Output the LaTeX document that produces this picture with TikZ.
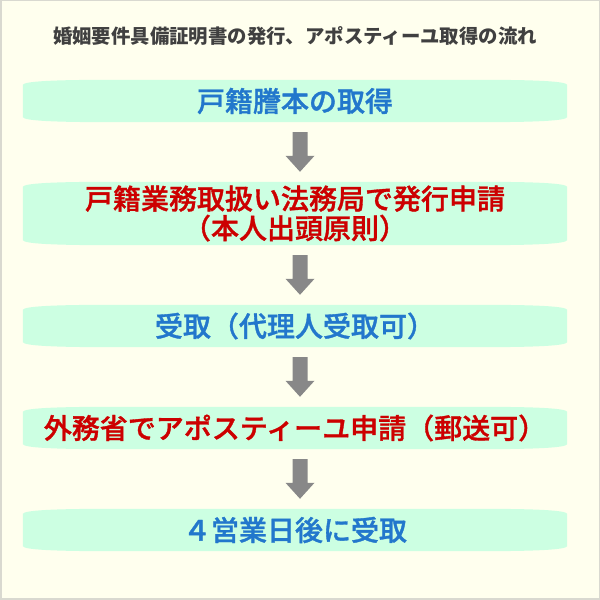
\documentclass[tikz,border=0pt]{standalone}
\usepackage{fontspec}
\newfontfamily\jp{Noto Sans CJK JP}
\newfontfamily\jpm[RawFeature={embolden=1.2}]{Noto Sans CJK JP Medium}
\usetikzlibrary{calc}
\definecolor{bgcream}{HTML}{FFFFEE}
\definecolor{framegray}{HTML}{D9D9D0}
\definecolor{mint}{HTML}{CCFFE2}
\definecolor{titlegray}{HTML}{404040}
\definecolor{txtblue}{HTML}{2277CC}
\definecolor{txtred}{HTML}{CC0000}
\definecolor{arrowgray}{HTML}{888888}
\tikzset{
  boxtext/.style={inner sep=0pt, minimum width=544pt, align=center,
    font=\jpm\fontsize{28}{29.5}\selectfont},
  titletext/.style={inner sep=0pt, text=titlegray,
    font=\jp\bfseries\fontsize{19.4}{22}\selectfont},
}
\newcommand\mintshape[1]{%
  \fill[mint] let \p1=(#1.north west), \p2=(#1.south east) in
    (\x1,\y1-5) .. controls (\x1+1.5,\y1-1.5) and (\x1+30,\y1) .. (\x1+90,\y1)
    -- (\x2-90,\y1) .. controls (\x2-30,\y1) and (\x2-1.5,\y1-1.5) .. (\x2,\y1-5)
    -- (\x2,\y2+5) .. controls (\x2-1.5,\y2+1.5) and (\x2-30,\y2) .. (\x2-90,\y2)
    -- (\x1+90,\y2) .. controls (\x1+30,\y2) and (\x1+1.5,\y2+1.5) .. (\x1,\y2+5)
    -- cycle;}
\newcommand\blockarrow[2]{%
  \fill[arrowgray] let \p1=(#1.south), \p2=(#2.north) in
    (292.5,\y1-10) -- (307.5,\y1-10) -- (307.5,\y2+26) -- (314.5,\y2+26)
    -- (300,\y2+10) -- (285.5,\y2+26) -- (292.5,\y2+26) -- cycle;}
\begin{document}
\begin{tikzpicture}[x=1pt,y=1pt]
\fill[bgcream] (0,0) rectangle (600,600);
\useasboundingbox (0,0) rectangle (600,600);
\draw[framegray, line width=1.5pt] (0.75,0.75) rectangle (599.25,599.25);

\node[titletext] (title) at (295,564) {婚姻要件具備証明書の発行、アポスティーユ取得の流れ};

% invisible sizing nodes for the boxes
\node[boxtext, minimum height=42pt] (b1frame) at (295,499) {};
\node[boxtext, minimum height=63pt] (b2frame) at (295,386.5) {};
\node[boxtext, minimum height=42pt] (b3frame) at (295,274) {};
\node[boxtext, minimum height=42pt] (b4frame) at (295,172) {};
\node[boxtext, minimum height=42pt] (b5frame) at (295,70) {};

\mintshape{b1frame}
\mintshape{b2frame}
\mintshape{b3frame}
\mintshape{b4frame}
\mintshape{b5frame}

\node[boxtext, text=txtblue] (b1) at (b1frame) {戸籍謄本の取得};
\node[boxtext, text=txtred] (b2) at (b2frame) {戸籍業務取扱い法務局で発行申請\\（本人出頭原則）};
\node[boxtext, text=txtblue] (b3) at (b3frame) {受取（代理人受取可）};
\node[boxtext, text=txtred] (b4) at (b4frame) {外務省でアポスティーユ申請（郵送可）};
\node[boxtext, text=txtblue] (b5) at (b5frame) {４営業日後に受取};

\blockarrow{b1frame}{b2frame}
\blockarrow{b2frame}{b3frame}
\blockarrow{b3frame}{b4frame}
\blockarrow{b4frame}{b5frame}
\end{tikzpicture}
\end{document}
